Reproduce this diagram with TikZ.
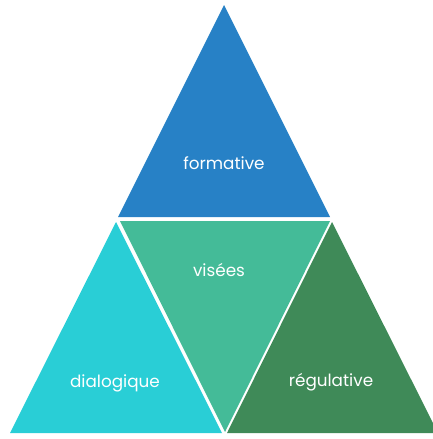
\documentclass[tikz,border=0pt]{standalone}
\usepackage{fontspec}
\setmainfont{Poppins}
\definecolor{cblue}{HTML}{2781C6}
\definecolor{cteal}{HTML}{44BB98}
\definecolor{ccyan}{HTML}{29CED6}
\definecolor{cgreen}{HTML}{3F8A58}
\begin{document}
\begin{tikzpicture}[x=1pt,y=-1pt,
  lbl/.style={text=white,font=\fontsize{16.8}{19}\selectfont}]
\useasboundingbox (0,0) rectangle (433,439);
\clip (0,0) rectangle (433,439);
\fill[cblue] (224,5) -- (330,217) -- (118,217) -- cycle;
\fill[cteal] (120,221) -- (330,221) -- (225,432) -- cycle;
\fill[ccyan] (116,222) -- (222,433) -- (10,433) -- cycle;
\fill[cgreen] (332,222) -- (438,433) -- (227,433) -- cycle;
\node[lbl] (f) at (224,163) {formative};
\node[lbl] (v) at (219,270) {visées};
\node[lbl] (d) at (115,383) {dialogique};
\node[lbl] (r) at (331,382) {régulative};
\end{tikzpicture}
\end{document}
